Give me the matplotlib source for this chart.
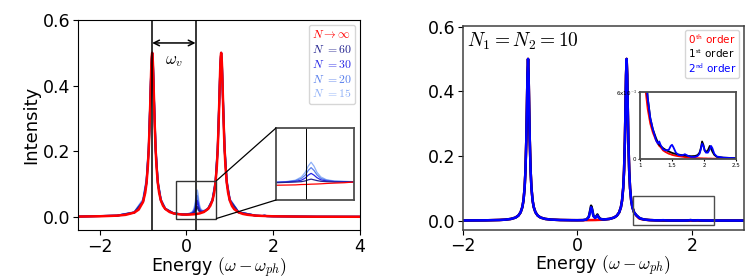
import matplotlib
matplotlib.use("Agg")
import matplotlib.pyplot as plt
from matplotlib.patches import Rectangle, ConnectionPatch

plt.rcParams['mathtext.fontset'] = 'cm'

# ---------------- left panel: N -> infinity vs finite N ----------------
x_inf = [-2.5, -2.0, -1.6, -1.4, -1.2, -1.1, -1.0, -0.95, -0.92, -0.89, -0.87, -0.85,
         -0.835, -0.82, -0.81, -0.8, -0.79, -0.78, -0.77, -0.76, -0.745, -0.73, -0.71,
         -0.69, -0.66, -0.63, -0.59, -0.54, -0.49, -0.39, -0.29, -0.19, -0.09, 0.0,
         0.1, 0.2, 0.3, 0.4, 0.5, 0.55, 0.6, 0.64, 0.67, 0.7, 0.72, 0.74, 0.755, 0.77,
         0.78, 0.79, 0.8, 0.81, 0.82, 0.83, 0.845, 0.86, 0.88, 0.9, 0.93, 0.96, 1.0,
         1.05, 1.1, 1.2, 1.3, 1.4, 1.6, 2.0, 2.5, 3.0, 4.0]
y_inf = [0.0009, 0.0018, 0.0037, 0.0062, 0.0132, 0.0223, 0.0456, 0.0734, 0.1032, 0.1528,
         0.2033, 0.2748, 0.342, 0.414, 0.458, 0.489, 0.5, 0.489, 0.458, 0.414, 0.342,
         0.2748, 0.2033, 0.1528, 0.1035, 0.0737, 0.0502, 0.0338, 0.0244, 0.0148, 0.0104,
         0.0082, 0.0071, 0.0068, 0.0072, 0.0082, 0.0104, 0.0148, 0.0244, 0.0338, 0.0502,
         0.0737, 0.1035, 0.1529, 0.2033, 0.2748, 0.342, 0.414, 0.458, 0.489, 0.5, 0.489,
         0.458, 0.414, 0.342, 0.2748, 0.2033, 0.1528, 0.1032, 0.0734, 0.0497, 0.0332,
         0.0236, 0.0138, 0.009, 0.0064, 0.0037, 0.0017, 0.0009, 0.0005, 0.0003]

x_N = [-2.5, -1.6, -1.2, -1.0, -0.92, -0.87, -0.83, -0.81, -0.79, -0.77, -0.75, -0.71,
       -0.66, -0.59, -0.49, -0.3, -0.1, 0.0, 0.08, 0.14, 0.18, 0.21, 0.23, 0.245, 0.26,
       0.28, 0.31, 0.35, 0.41, 0.5, 0.6, 0.67, 0.72, 0.76, 0.78, 0.8, 0.82, 0.84, 0.88,
       0.93, 1.0, 1.2, 1.6, 1.75, 1.8, 1.85, 2.0, 3.0, 4.0]
y_60 = [0.0009, 0.0037, 0.0132, 0.0456, 0.1032, 0.2033, 0.366, 0.458, 0.5, 0.458, 0.366,
        0.2033, 0.1035, 0.0502, 0.0244, 0.0107,
        0.0074, 0.0072, 0.008, 0.0098, 0.013, 0.0194, 0.0274, 0.031, 0.028, 0.0209, 0.0157,
        0.0146, 0.0162,
        0.0244, 0.0502, 0.1035, 0.2033, 0.366, 0.458, 0.5, 0.458, 0.366, 0.2033, 0.1032,
        0.0497, 0.0138, 0.0037, 0.0026, 0.0028, 0.0022, 0.0017, 0.0005, 0.0003]
y_30 = [0.0009, 0.0037, 0.0132, 0.047, 0.106, 0.2033, 0.366, 0.458, 0.5, 0.458, 0.366,
        0.2033, 0.1035, 0.0502, 0.0244, 0.0107,
        0.0076, 0.0076, 0.0088, 0.0116, 0.017, 0.0284, 0.0426, 0.049, 0.0432, 0.0299,
        0.0197, 0.0164, 0.017,
        0.0244, 0.0502, 0.1035, 0.2033, 0.366, 0.458, 0.5, 0.458, 0.366, 0.2033, 0.105,
        0.0505, 0.0138, 0.0037, 0.0026, 0.0035, 0.0022, 0.0017, 0.0005, 0.0003]
y_20 = [0.0009, 0.0038, 0.0138, 0.05, 0.11, 0.21, 0.37, 0.46, 0.5, 0.46, 0.37,
        0.21, 0.107, 0.052, 0.025, 0.011,
        0.0078, 0.0079, 0.0095, 0.0131, 0.0204, 0.0359, 0.0553, 0.064, 0.0559, 0.0374,
        0.0231, 0.0179, 0.0177,
        0.025, 0.052, 0.107, 0.21, 0.37, 0.46, 0.5, 0.46, 0.37, 0.21, 0.108,
        0.052, 0.0142, 0.0038, 0.0027, 0.0045, 0.0023, 0.0017, 0.0005, 0.0003]
y_15 = [0.001, 0.004, 0.0145, 0.053, 0.115, 0.215, 0.375, 0.46, 0.5, 0.46, 0.375,
        0.215, 0.11, 0.054, 0.026, 0.0115,
        0.0079, 0.0082, 0.0102, 0.0148, 0.0242, 0.0444, 0.0696, 0.081, 0.0702, 0.0459,
        0.0269, 0.0196, 0.0184,
        0.026, 0.054, 0.11, 0.215, 0.375, 0.46, 0.5, 0.46, 0.375, 0.215, 0.112,
        0.054, 0.0146, 0.004, 0.0028, 0.0055, 0.0024, 0.0018, 0.0005, 0.0003]

# zoomed view of the small peak (inset)
x_zoom = [-0.1, 0.0, 0.1, 0.16, 0.2, 0.23, 0.26, 0.29, 0.32, 0.36, 0.42, 0.5, 0.6, 0.7]
z_inf = [0.0041, 0.00415, 0.0042, 0.0043, 0.00432, 0.00435, 0.0044, 0.00442, 0.00445,
         0.0045, 0.0046, 0.0047, 0.0048, 0.005]
z_60 = [0.0048, 0.0049, 0.005, 0.0051, 0.0053, 0.0056, 0.0058, 0.0056, 0.0054, 0.0052,
        0.0051, 0.005, 0.005, 0.005]
z_30 = [0.0049, 0.005, 0.0052, 0.0055, 0.0061, 0.0069, 0.0074, 0.0069, 0.0062, 0.0056,
        0.0053, 0.0051, 0.0051, 0.005]
z_20 = [0.0049, 0.005, 0.0054, 0.006, 0.0069, 0.0082, 0.009, 0.0082, 0.007, 0.006,
        0.0055, 0.0052, 0.0051, 0.0051]
z_15 = [0.005, 0.0051, 0.0055, 0.0064, 0.0077, 0.0094, 0.0105, 0.0094, 0.0077, 0.0064,
        0.0056, 0.0053, 0.0052, 0.0051]

N_labels = [r"$N\rightarrow\infty$", r"$N\ {=}60$", r"$N\ {=}30$", r"$N\ {=}20$", r"$N\ {=}15$"]
N_colors = ["red", "#23238f", "#2626e6", "#5a80ec", "#8fb0f7"]

line_pos = [-0.79, 0.21]   # vertical markers, omega_v apart

# ---------------- right panel: perturbation orders ----------------
x_r = [-2.0, -1.6, -1.36, -1.26, -1.16, -1.08, -1.03, -0.99, -0.96, -0.94, -0.92, -0.905,
       -0.89, -0.88, -0.87, -0.86, -0.85, -0.84, -0.83, -0.815, -0.8, -0.78, -0.76, -0.73,
       -0.69, -0.64, -0.56, -0.46, -0.3, -0.1, 0.0,
       0.1, 0.16, 0.2, 0.22, 0.24, 0.26, 0.28, 0.31, 0.33, 0.35, 0.37, 0.4, 0.46,
       0.56, 0.64, 0.69, 0.73, 0.76, 0.78, 0.8, 0.815, 0.83, 0.84, 0.85, 0.86, 0.87,
       0.88, 0.89, 0.905, 0.92, 0.94, 0.96, 0.99,
       1.03, 1.08, 1.12, 1.16, 1.2, 1.25, 1.28, 1.3, 1.32, 1.36, 1.4, 1.45, 1.48, 1.5,
       1.52, 1.56, 1.6, 1.65, 1.68, 1.7, 1.72, 1.76, 1.8, 1.86, 1.9, 1.93, 1.95, 1.97,
       1.99, 2.01, 2.03, 2.06, 2.09, 2.11, 2.13, 2.16, 2.2, 2.3, 2.5, 2.9]
peaks_r = [0.0004, 0.0009, 0.0019, 0.0029, 0.0051, 0.0092, 0.0152, 0.0254, 0.0414, 0.0617,
           0.1, 0.154, 0.25, 0.346, 0.45, 0.5, 0.45, 0.346, 0.25, 0.154, 0.1, 0.0617,
           0.0414, 0.0255, 0.0153, 0.0093, 0.0052, 0.0031, 0.0018, 0.0013, 0.0012]
upper_r = [0.0052, 0.0093, 0.0153, 0.0255, 0.0414, 0.0617, 0.1, 0.154, 0.25, 0.346, 0.45,
           0.5, 0.45, 0.346, 0.25, 0.154, 0.1, 0.0617, 0.0414, 0.0254]
y_0th = (peaks_r
         + [0.0013, 0.0014, 0.0014, 0.0015, 0.0016, 0.0016, 0.0017, 0.0018, 0.0019, 0.0021,
            0.0022, 0.0024, 0.0031]
         + upper_r
         + [0.0152, 0.0065, 0.0045, 0.0032, 0.0024, 0.0017, 0.0014, 0.0012, 0.0011, 0.0008,
            0.00065, 0.0005, 0.00045, 0.0004, 0.00037, 0.00032, 0.00028, 0.00024, 0.00022,
            0.0002, 0.00019, 0.00017, 0.00015, 0.00012, 0.0001, 0.0001, 0.00009, 0.00009,
            0.00008, 0.00008, 0.00008, 0.00007, 0.00007, 0.00007, 0.00006, 0.00006, 0.00006,
            0.00005, 0.00004, 0.00003])
y_1st = (peaks_r
         + [0.0015, 0.0035, 0.012, 0.028, 0.046, 0.035, 0.015, 0.009, 0.013, 0.019, 0.012,
            0.0055, 0.0035]
         + upper_r
         + [0.0165, 0.0085, 0.0055, 0.0037, 0.0027, 0.0019, 0.0015, 0.0013, 0.0012, 0.001,
            0.00085, 0.0007, 0.00063, 0.00058, 0.00054, 0.00048, 0.00043, 0.00038, 0.00035,
            0.00034, 0.00032, 0.0003, 0.00028, 0.0003, 0.00038, 0.0006, 0.001, 0.0016,
            0.0013, 0.0008, 0.00066, 0.0008, 0.0012, 0.001, 0.0007, 0.0004, 0.00022,
            0.00015, 0.0001, 0.00007])
y_2nd = (peaks_r
         + [0.0015, 0.0034, 0.011, 0.025, 0.041, 0.031, 0.014, 0.008, 0.011, 0.016, 0.01,
            0.005, 0.0034]
         + upper_r
         + [0.0165, 0.0085, 0.0055, 0.0037, 0.0027, 0.0017, 0.0014, 0.0016, 0.0013, 0.0009,
            0.0008, 0.00085, 0.0012, 0.0013, 0.0011, 0.0006, 0.0004, 0.00035, 0.0004,
            0.00046, 0.0004, 0.00028, 0.00022, 0.00022, 0.0003, 0.0005, 0.0009, 0.0014,
            0.0012, 0.0008, 0.0006, 0.0006, 0.0009, 0.0012, 0.001, 0.0005, 0.00025,
            0.00015, 0.0001, 0.00007])

order_labels = [r"0$^{\mathsf{th}}$ order", r"1$^{\mathsf{st}}$ order", r"2$^{\mathsf{nd}}$ order"]
order_colors = ["red", "black", "blue"]

fig = plt.figure(figsize=(7.47, 2.8), dpi=100)

# left panel
ax1 = fig.add_axes([0.1044, 0.1786, 0.3775, 0.75])
for y, c, lab in zip([y_15, y_20, y_30, y_60], N_colors[:0:-1], N_labels[:0:-1]):
    ax1.plot(x_N, y, color=c, lw=1.4, label=lab)
ax1.plot(x_inf, y_inf, color=N_colors[0], lw=1.8, label=N_labels[0])
for xv in line_pos:
    ax1.axvline(xv, color='k', lw=1.1)
ax1.annotate('', xy=(line_pos[0], 0.53), xytext=(line_pos[1], 0.53),
             arrowprops=dict(arrowstyle='<->', color='k', lw=1.1, shrinkA=0, shrinkB=0))
ax1.text(sum(line_pos) / 2, 0.505, r"$\omega_v$", ha='center', va='top', fontsize=12)
ax1.set_xlim(-2.5, 4)
ax1.set_ylim(-0.04, 0.6)
ax1.set_xticks([-2, 0, 2, 4])
ax1.set_yticks([0.0, 0.2, 0.4, 0.6])
ax1.tick_params(labelsize=12.5, pad=2)
ax1.set_xlabel(r"Energy $(\omega-\omega_{ph})$", fontsize=12.5, labelpad=0)
ax1.set_ylabel("Intensity", fontsize=13, labelpad=2)

h, l = ax1.get_legend_handles_labels()
order = [4, 3, 2, 1, 0]
leg1 = ax1.legend([h[i] for i in order], [l[i] for i in order], loc='upper right',
                  fontsize=8.5, handlelength=0, handletextpad=0, labelspacing=0.15,
                  borderpad=0.3, borderaxespad=0.4)
for txt, c in zip(leg1.get_texts(), N_colors):
    txt.set_color(c)
for hd in leg1.legend_handles:
    hd.set_visible(False)

# zoom box and inset on the left
box = [-0.25, -0.005, 0.94, 0.115]
ax1.add_patch(Rectangle((box[0], box[1]), box[2], box[3], fill=False, ec='0.2', lw=1.0, zorder=5))
axins1 = fig.add_axes([0.3695, 0.2857, 0.1044, 0.2571])
for y, c in zip([z_15, z_20, z_30, z_60], N_colors[:0:-1]):
    axins1.plot(x_zoom, y, color=c, lw=0.9)
axins1.plot(x_zoom, z_inf, color=N_colors[0], lw=0.9)
axins1.axvline(line_pos[1], color='k', lw=0.7)
axins1.set_xlim(-0.1, 0.7)
axins1.set_ylim(0, 0.02)
axins1.set_xticks([])
axins1.set_yticks([])
for s in axins1.spines.values():
    s.set_color('0.3')
    s.set_linewidth(1.3)
for pa, pb in [((box[0] + box[2], box[1] + box[3]), (0, 1)), ((box[0] + box[2], box[1]), (0, 0))]:
    con = ConnectionPatch(xyA=pa, coordsA=ax1.transData, xyB=pb, coordsB=axins1.transAxes,
                          color='k', lw=0.9)
    fig.add_artist(con)

# right panel
ax2 = fig.add_axes([0.6194, 0.1775, 0.376, 0.731])
for y, c, lab in zip([y_0th, y_1st, y_2nd], order_colors, order_labels):
    ax2.plot(x_r, y, color=c, lw=1.8, label=lab)
ax2.text(0.015, 0.975, r"$N_1=N_2=10$", transform=ax2.transAxes, ha='left', va='top', fontsize=14)
ax2.add_patch(Rectangle((0.97, -0.015), 1.41, 0.092, fill=False, ec='0.3', lw=1.0, zorder=5))
ax2.set_xlim(-2, 2.9)
ax2.set_ylim(-0.03, 0.603)
ax2.set_xticks([-2, 0, 2])
ax2.set_yticks([0.0, 0.2, 0.4, 0.6])
ax2.tick_params(labelsize=12.5, pad=1.5)
ax2.set_xlabel(r"Energy $(\omega-\omega_{ph})$", fontsize=12.5, labelpad=-1)
for s in ax2.spines.values():
    s.set_color('0.25')
    s.set_linewidth(1.1)
leg2 = ax2.legend(loc='upper right', fontsize=7.5, handlelength=0, handletextpad=0,
                  labelspacing=0.1, borderpad=0.3, borderaxespad=0.4)
for txt, c in zip(leg2.get_texts(), order_colors):
    txt.set_color(c)
for hd in leg2.legend_handles:
    hd.set_visible(False)

axins2 = fig.add_axes([0.8568, 0.431, 0.1285, 0.239])
for y, c in zip([y_0th, y_1st, y_2nd], order_colors):
    axins2.plot(x_r, y, color=c, lw=1.3)
axins2.set_xlim(1, 2.5)
axins2.set_ylim(0, 0.006)
axins2.set_xticks([1, 1.5, 2, 2.5])
axins2.set_xticklabels(['1', '1.5', '2', '2.5'])
axins2.set_yticks([0, 0.006])
axins2.set_yticklabels(['0', r'6x10$^{-3}$'])
axins2.tick_params(labelsize=4, length=1.5, pad=1)
for s in axins2.spines.values():
    s.set_color('0.3')
    s.set_linewidth(1.3)

fig.savefig("out.png", dpi=100)
